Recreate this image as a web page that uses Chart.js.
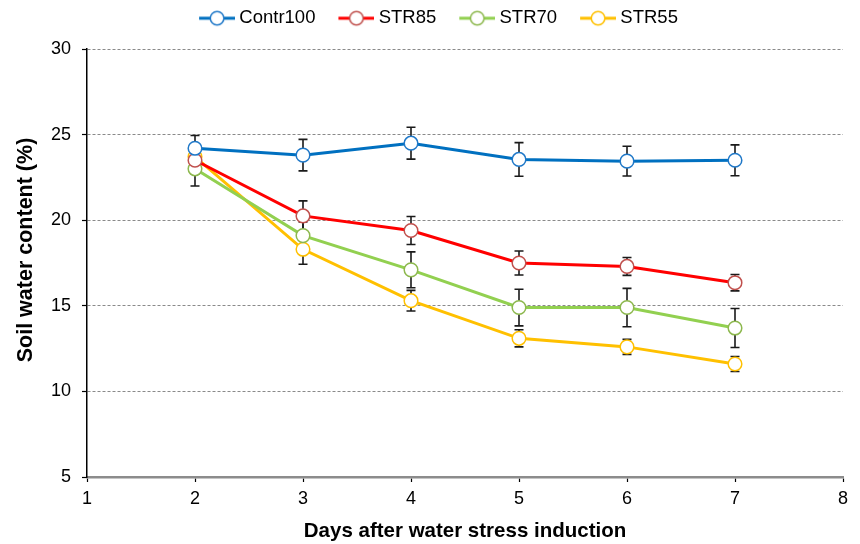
<!DOCTYPE html>
<html>
<head>
<meta charset="utf-8">
<script src="https://cdn.jsdelivr.net/npm/chart.js@4/dist/chart.umd.min.js"></script>
<style>
  html, body { margin: 0; padding: 0; background: #fff; }
  #wrap { width: 860px; height: 544px; }
</style>
</head>
<body>
<div id="wrap"><canvas id="c" width="860" height="544"></canvas></div>
<script>
// ---- data ----
const days = [2, 3, 4, 5, 6, 7];
const seriesNames = ['Contr100', 'STR85', 'STR70', 'STR55'];
const contr100 = [24.2, 23.8, 24.5, 23.55, 23.45, 23.5];
const contr100Err = [0.75, 0.92, 0.93, 0.98, 0.87, 0.9];
const str85 = [23.5, 20.25, 19.4, 17.5, 17.3, 16.35];
const str85Err = [0.8, 0.88, 0.82, 0.7, 0.52, 0.48];
const str70 = [23.0, 19.1, 17.1, 14.9, 14.9, 13.7];
const str70Err = [1.0, 0.8, 1.05, 1.07, 1.12, 1.14];
const str55 = [23.7, 18.3, 15.3, 13.1, 12.6, 11.6];
const str55Err = [0.6, 0.87, 0.6, 0.5, 0.44, 0.44];
const xTicks = [1, 2, 3, 4, 5, 6, 7, 8];
const yTicks = [5, 10, 15, 20, 25, 30];
const xTitle = 'Days after water stress induction';
const yTitle = 'Soil water content (%)';

const lineColors = ['#0070C0', '#FF0000', '#92D050', '#FFC000'];
const markerColors = ['#1F78C8', '#C0504D', '#8DB84E', '#FFC000'];
const values = [contr100, str85, str70, str55];
const errors = [contr100Err, str85Err, str70Err, str55Err];

const FONT = "'Liberation Sans', Arial, sans-serif";

function legendImage(lineCol, markCol) {
  const cv = document.createElement('canvas');
  cv.width = 58; cv.height = 18;
  const g = cv.getContext('2d');
  g.strokeStyle = lineCol; g.lineWidth = 3;
  g.beginPath(); g.moveTo(22, 9); g.lineTo(58, 9); g.stroke();
  g.beginPath(); g.arc(40, 9, 6.8, 0, Math.PI * 2);
  g.fillStyle = '#fff'; g.fill();
  g.strokeStyle = markCol; g.lineWidth = 1.5; g.stroke();
  return cv;
}
const legendImgs = seriesNames.map((n, i) => legendImage(lineColors[i], markerColors[i]));

const legendHeight = {
  id: 'legendHeight',
  beforeInit(chart) {
    const lg = chart.legend;
    if (!lg) return;
    const origFit = lg.fit;
    lg.fit = function () { origFit.call(this); this.height = 46; };
  }
};

const errorBars = {
  id: 'errorBars',
  beforeDatasetsDraw(chart) {
    const ctx = chart.ctx;
    const yS = chart.scales.y;
    ctx.save();
    ctx.strokeStyle = '#1a1a1a';
    ctx.lineWidth = 1.6;
    chart.data.datasets.forEach((ds, di) => {
      const meta = chart.getDatasetMeta(di);
      const err = errors[di];
      meta.data.forEach((pt, i) => {
        const v = ds.data[i].y;
        const x = pt.x;
        const yt = yS.getPixelForValue(v + err[i]);
        const yb = yS.getPixelForValue(v - err[i]);
        ctx.beginPath();
        ctx.moveTo(x, yt); ctx.lineTo(x, yb);
        ctx.moveTo(x - 4.5, yt); ctx.lineTo(x + 4.5, yt);
        ctx.moveTo(x - 4.5, yb); ctx.lineTo(x + 4.5, yb);
        ctx.stroke();
      });
    });
    ctx.restore();
  }
};

const yTitlePlugin = {
  id: 'yTitlePlugin',
  afterDraw(chart) {
    const ctx = chart.ctx;
    ctx.save();
    ctx.translate(26, 250);
    ctx.rotate(-Math.PI / 2);
    ctx.font = "bold 21.5px " + FONT;
    ctx.fillStyle = '#000';
    ctx.textAlign = 'center';
    ctx.textBaseline = 'middle';
    ctx.fillText(yTitle, 0, 0);
    ctx.restore();
  }
};

const datasets = seriesNames.map((name, i) => ({
  label: name,
  data: days.map((d, k) => ({ x: d, y: values[i][k] })),
  borderColor: lineColors[i],
  borderWidth: 3,
  pointRadius: 6.8,
  pointHoverRadius: 6.8,
  pointBorderWidth: 1.5,
  pointBackgroundColor: '#ffffff',
  pointBorderColor: markerColors[i],
  tension: 0,
  fill: false
}));

new Chart(document.getElementById('c'), {
  type: 'line',
  data: { datasets },
  plugins: [legendHeight, errorBars, yTitlePlugin],
  options: {
    responsive: false,
    animation: false,
    layout: { padding: { top: 3, left: 0, right: 0, bottom: 0 } },
    plugins: {
      tooltip: { enabled: false },
      legend: {
        position: 'top',
        labels: {
          usePointStyle: true,
          pointStyleWidth: 48,
          padding: 6,
          color: '#000',
          font: { family: FONT, size: 18.5 },
          generateLabels(chart) {
            return chart.data.datasets.map((ds, i) => ({
              text: ds.label,
              pointStyle: legendImgs[i],
              fillStyle: '#fff',
              strokeStyle: markerColors[i],
              lineWidth: 0,
              hidden: false,
              datasetIndex: i,
              fontColor: '#000'
            }));
          }
        }
      }
    },
    scales: {
      x: {
        type: 'linear',
        min: 1, max: 8,
        afterBuildTicks(scale) { scale.ticks = xTicks.map(v => ({ value: v })); },
        afterFit(scale) { scale.height = 67; scale.paddingRight = 17; },
        ticks: { color: '#000', font: { family: FONT, size: 18 }, padding: 6, maxRotation: 0 },
        grid: { drawOnChartArea: false, drawTicks: true, tickLength: 5, tickColor: '#000', tickWidth: 1.2 },
        border: { display: true, color: '#8c8c8c', width: 2.5 },
        title: { display: true, text: xTitle, color: '#000',
                 font: { family: FONT, size: 20.5, weight: 'bold' }, padding: { top: 0, bottom: 0 } }
      },
      y: {
        type: 'linear',
        min: 5, max: 30,
        afterBuildTicks(scale) { scale.ticks = yTicks.map(v => ({ value: v })); },
        afterFit(scale) { scale.width = 87; },
        ticks: { color: '#000', font: { family: FONT, size: 18 }, padding: 11 },
        grid: { color: '#8a8a8a', lineWidth: 1, tickLength: 5, tickColor: '#000', tickWidth: 1.2, tickBorderDash: [] },
        border: { display: true, color: '#000', width: 1.5, dash: [3, 2] },
        title: { display: false }
      }
    }
  }
});
</script>
</body>
</html>
